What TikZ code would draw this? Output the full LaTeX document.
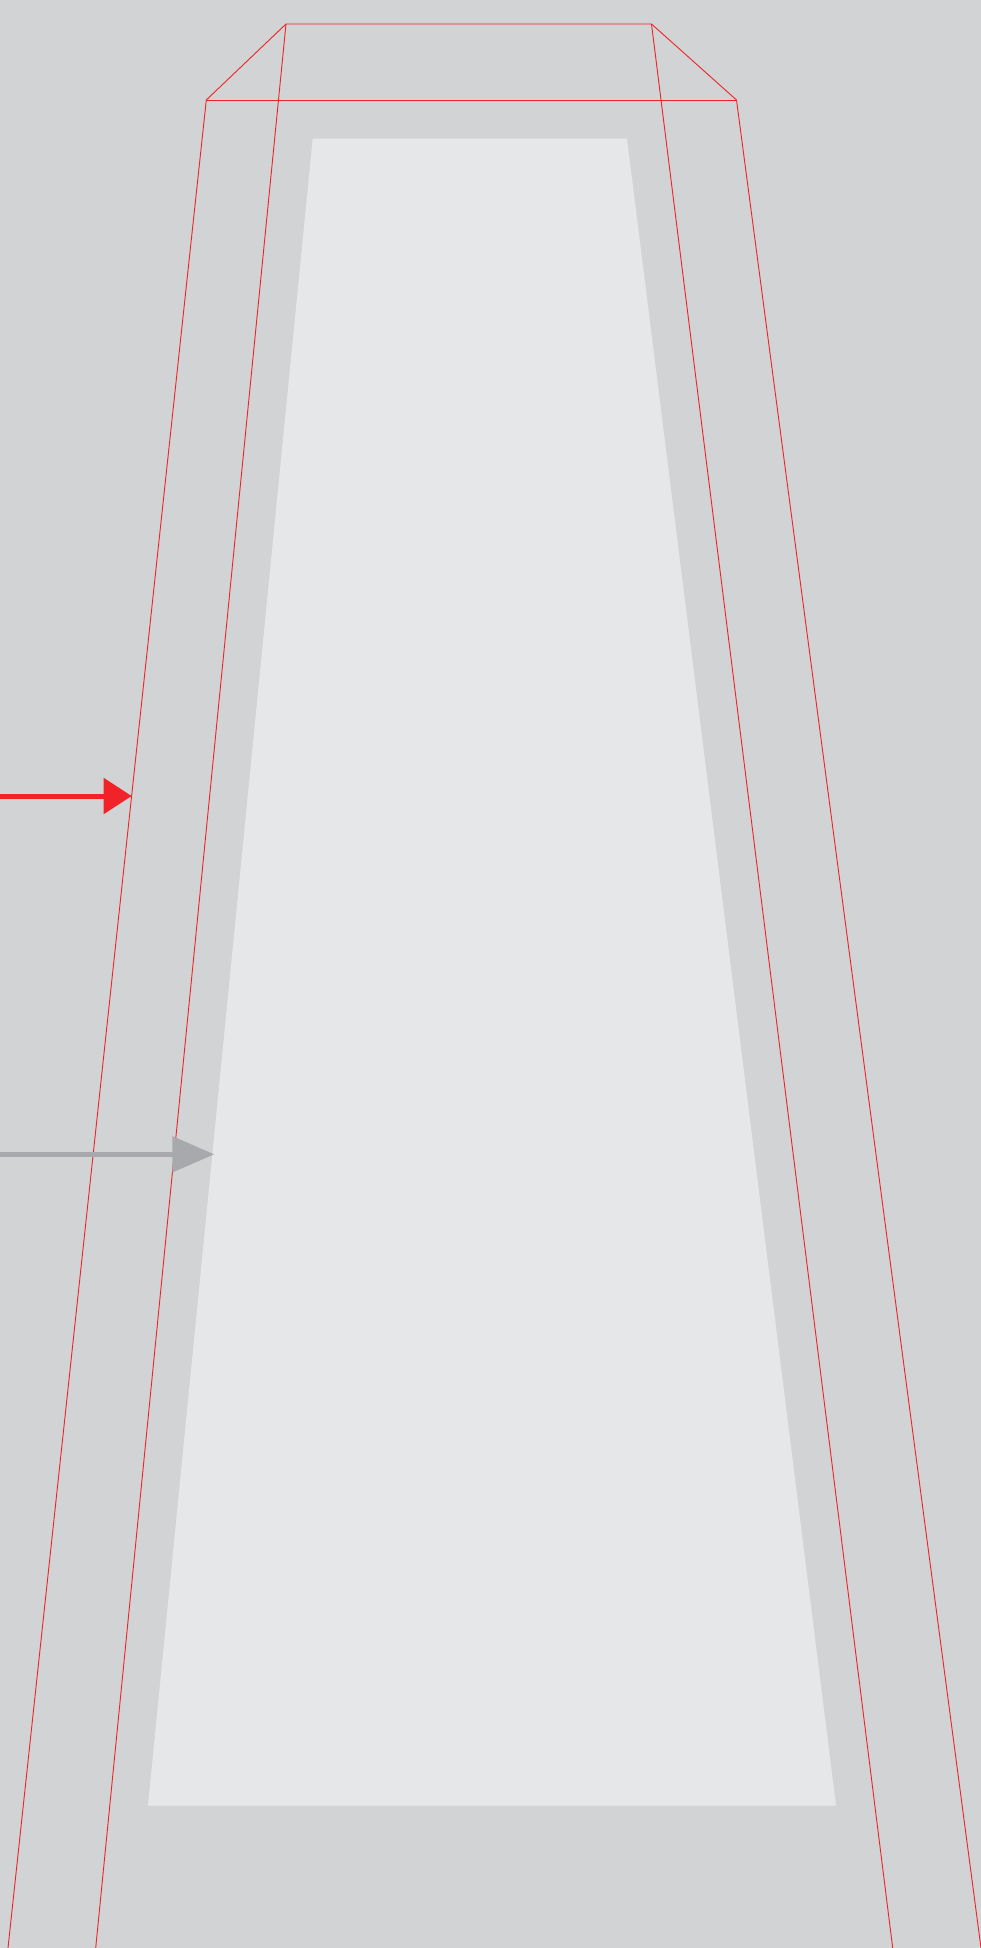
\documentclass[tikz,border=0pt]{standalone}
\usepackage{tikz}
\usetikzlibrary{arrows.meta}

\definecolor{ductgray}{HTML}{D1D3D4}
\definecolor{corepale}{HTML}{E6E7E8}
\definecolor{wirered}{HTML}{EE2326}
\definecolor{rayred}{HTML}{F12228}
\definecolor{raygray}{HTML}{A7A9AC}

\begin{document}
\begin{tikzpicture}[
    x=1pt, y=-1pt,
    wire/.style={draw=wirered, line width=0.9pt, line join=miter},
    core/.style={fill=corepale},
    redray/.style={-{Triangle[length=28pt, width=35pt]}, line width=5pt, draw=rayred, fill=rayred},
    grayray/.style={-{Triangle[length=42pt, width=35pt]}, line width=5pt, draw=raygray, fill=raygray}]

  % === Page: fixes the margins ===
  \fill[ductgray] (0,0) rectangle (981,1948);
  \useasboundingbox (0,0) rectangle (981,1948);
  \clip (0,0) rectangle (981,1948);

  % Corners of the pale panel
  \coordinate (coretl) at (312.7,138.7);
  \coordinate (coretr) at (627,138.7);
  \coordinate (corebr) at (836,1805.7);
  \coordinate (corebl) at (148,1805.7);
  \fill[core] (coretl) -- (coretr) -- (corebr) -- (corebl) -- cycle;

  % Corners of the red outline
  \coordinate (backl) at (286,24);
  \coordinate (backr) at (651.5,24);
  \coordinate (frontl) at (206.3,100);
  \coordinate (frontr) at (736.5,100);
  \coordinate (footol) at (8,1948);
  \coordinate (footil) at (95.7,1948);
  \coordinate (footir) at (892.7,1948);
  \coordinate (footor) at (981,1948);

  % === Red outline ===
  \draw[wire] (footol) -- (frontl) -- (backl) -- (backr) -- (frontr) -- (footor);
  \draw[wire] (frontl) -- (frontr);
  \draw[wire] (footil) -- (backl);
  \draw[wire] (backr) -- (footir);

  % === Arrows ===
  \coordinate (redstart) at (0,796);
  \coordinate (redtip) at (131.7,796);
  \coordinate (graystart) at (0,1154.3);
  \coordinate (graytip) at (214.3,1154.3);
  \draw[redray] (redstart) -- (redtip);
  \draw[grayray] (graystart) -- (graytip);

\end{tikzpicture}
\end{document}
